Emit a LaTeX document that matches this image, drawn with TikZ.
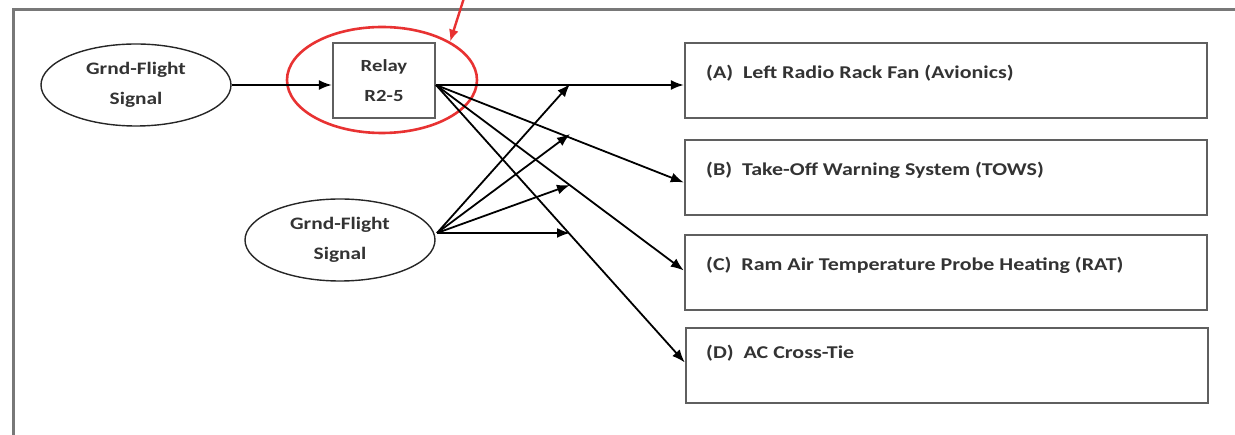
\documentclass[tikz,border=0pt]{standalone}
\usepackage{fontspec}
\newfontfamily\carl[FakeStretch=1.22]{Carlito}
\usetikzlibrary{shapes.geometric,arrows.meta,calc}
\definecolor{frame}{RGB}{120,120,120}
\definecolor{boxc}{RGB}{95,95,95}
\definecolor{redc}{RGB}{232,50,50}
\begin{document}
\begin{tikzpicture}[x=1pt,y=-1pt,
  sig/.style={ellipse,draw=black!85,line width=1.4pt,minimum width=190pt,minimum height=82pt,inner sep=0pt,align=center,font=\carl\bfseries\fontsize{17.5}{30}\selectfont,text=black!80},
  relaybox/.style={rectangle,draw=boxc,line width=2.4pt,minimum width=102pt,minimum height=75pt,inner sep=0pt,align=center,font=\carl\bfseries\fontsize{17}{30}\selectfont,text=black!80},
  tbox/.style={rectangle,draw=boxc,line width=2.4pt,minimum width=522pt,minimum height=75pt,inner sep=0pt},
  tlabel/.style={anchor=west,inner sep=0pt,font=\carl\bfseries\fontsize{18}{20}\selectfont,text=black!80},
  arr/.style={line width=1.8pt,-{Latex[length=13pt,width=10pt]}},
]
\useasboundingbox (0,0) rectangle (1235,435);
% frame
\draw[frame,line width=3pt] (13,440) -- (13,10) -- (1240,10);
% nodes
\node[sig] (s1) at (136,85) {Grnd-Flight\\Signal};
\node[sig] (s2) at (340,240) {Grnd-Flight\\Signal};
\node[relaybox] (relay) at (384,80.5) {Relay\\R2-5};
\node[tbox] (bA) at (946,80.5) {};
\node[tbox] (bB) at (946,177.5) {};
\node[tbox] (bC) at (946,272.5) {};
\node[tbox] (bD) at (947,365.5) {};
\node[tlabel] (tA) at (706,73) {(A)\ \ Left Radio Rack Fan (Avionics)};
\node[tlabel] (tB) at (706,170) {(B)\ \ Take-Off Warning System (TOWS)};
\node[tlabel] (tC) at (706,265) {(C)\ \ Ram Air Temperature Probe Heating (RAT)};
\node[tlabel] (tD) at (706,353) {(D)\ \ AC Cross-Tie};
% red highlight
\node[ellipse,draw=redc,line width=2.6pt,minimum width=190pt,minimum height=106pt] (hl) at (382,80) {};
\coordinate (rtop) at (464,-2);
\draw[redc,line width=2.4pt,-{Latex[length=12pt,width=10pt]}] (rtop) -- (hl.north east);
% connectors
\draw[arr] (s1.east) -- (relay.west |- s1.east);
\coordinate (rs) at (436,85);
\coordinate (s2o) at (437,233);
\draw[arr] (rs) -- (bA.west |- rs);
\draw[arr] (rs) -- ($(bB.west)+(0,5)$);
\draw[arr] (rs) -- ($(bC.west)+(0,-2)$);
\draw[arr] (rs) -- ($(bD.west)+(0,-3)$);
\coordinate (e1) at (570,84);
\coordinate (e2) at (570,134);
\coordinate (e3) at (570,185);
\coordinate (e4) at (570,233);
\draw[arr] (s2o) -- (e1);
\draw[arr] (s2o) -- (e2);
\draw[arr] (s2o) -- (e3);
\draw[arr] (s2o) -- (e4);
\end{tikzpicture}
\end{document}
